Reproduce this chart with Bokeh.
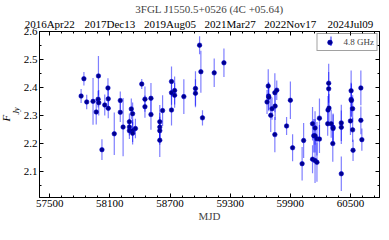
import numpy as np
from bokeh.plotting import figure
from bokeh.models import (ColumnDataSource, LinearAxis, FixedTicker, Range1d,
                          Legend, LegendItem, Title, Whisker)
from bokeh.embed import file_html
from bokeh.resources import INLINE

# ---------------- data ----------------
mjd = [57813, 57841, 57869, 57932, 57964, 57983, 57986, 57989, 58021, 58049,
       58081, 58084, 58084, 58144, 58204, 58204, 58232, 58295, 58295, 58295,
       58314, 58327, 58327, 58327, 58355, 58418, 58450, 58450, 58510, 58510,
       58598, 58598, 58598, 58598, 58626, 58715, 58715, 58715, 58746, 58746,
       58838, 58954, 58954, 58995, 59008, 59024, 59141, 59238,
       59668, 59680, 59683, 59686, 59705, 59718, 59746, 59749, 59746, 59765,
       59863, 59901, 59923, 60018, 60033, 60122, 60122, 60134, 60147, 60147,
       60147, 60166, 60166, 60191, 60191, 60283, 60283, 60276, 60286, 60273,
       60308, 60327, 60327, 60324, 60409, 60409, 60409, 60507, 60507, 60510,
       60522, 60500, 60522, 60526, 60604, 60604, 60614]
flux = [2.369, 2.431, 2.348, 2.350, 2.312, 2.358, 2.441, 2.345, 2.177, 2.337,
        2.398, 2.359, 2.325, 2.234, 2.353, 2.311, 2.258, 2.277, 2.258, 2.245,
        2.323, 2.306, 2.245, 2.236, 2.253, 2.412, 2.358, 2.331, 2.361, 2.303,
        2.277, 2.258, 2.245, 2.211, 2.317, 2.421, 2.381, 2.319, 2.389, 2.372,
        2.367, 2.396, 2.379, 2.551, 2.456, 2.291, 2.452, 2.488,
        2.348, 2.405, 2.369, 2.365, 2.300, 2.324, 2.381, 2.333, 2.231, 2.390,
        2.262, 2.354, 2.184, 2.127, 2.210, 2.270, 2.143, 2.227, 2.255, 2.227,
        2.138, 2.132, 2.216, 2.290, 2.215, 2.415, 2.395, 2.319, 2.326, 2.270,
        2.270, 2.257, 2.253, 2.199, 2.273, 2.257, 2.091, 2.388, 2.357, 2.353,
        2.324, 2.280, 2.248, 2.175, 2.398, 2.282, 2.213]
flux_err = [0.025, 0.024, 0.026, 0.084, 0.045, 0.030, 0.071, 0.046, 0.037, 0.038,
            0.035, 0.035, 0.035, 0.076, 0.032, 0.035, 0.104, 0.030, 0.030, 0.030,
            0.037, 0.040, 0.040, 0.040, 0.035, 0.018, 0.045, 0.040, 0.055, 0.055,
            0.060, 0.050, 0.050, 0.060, 0.055, 0.054, 0.043, 0.055, 0.050, 0.045,
            0.062, 0.062, 0.050, 0.032, 0.075, 0.027, 0.051, 0.051,
            0.043, 0.060, 0.050, 0.050, 0.060, 0.040, 0.070, 0.050, 0.063, 0.035,
            0.032, 0.067, 0.048, 0.060, 0.063, 0.060, 0.050, 0.060, 0.060, 0.060,
            0.080, 0.070, 0.060, 0.070, 0.050, 0.070, 0.060, 0.050, 0.050, 0.043,
            0.050, 0.050, 0.050, 0.065, 0.065, 0.060, 0.062, 0.072, 0.060, 0.060,
            0.048, 0.050, 0.043, 0.038, 0.062, 0.050, 0.040]

x_ticks = [57500, 58100, 58700, 59300, 59900, 60500]
date_labels = ["2016Apr22", "2017Dec13", "2019Aug05", "2021Mar27", "2022Nov17", "2024Jul09"]
y_ticks = [2.1, 2.2, 2.3, 2.4, 2.5, 2.6]
title_text = "3FGL J1550.5+0526 (4C +05.64)"
x_label = "MJD"
y_label_main = "F"
y_label_sub = "Jy"
legend_text = "4.8 GHz"

FONT = "Liberation Serif"
X0, X1 = 57398, 60790

src = ColumnDataSource(dict(
    x=mjd, y=flux,
    lo=[f - e for f, e in zip(flux, flux_err)],
    hi=[f + e for f, e in zip(flux, flux_err)],
))

p = figure(width=381, height=224, output_backend="svg", toolbar_location=None,
           x_range=Range1d(X0, X1), y_range=Range1d(2.006, 2.6),
           min_border_left=10, min_border_right=2, min_border_top=0,
           min_border_bottom=0)
p.background_fill_color = "white"
p.border_fill_color = "white"
p.outline_line_color = "black"
p.xgrid.visible = False
p.ygrid.visible = False

p.title.text = title_text
p.title.text_font = FONT
p.title.text_font_size = "11px"
p.title.text_font_style = "normal"
p.title.align = "center"
p.title.standoff = 0
p.title.offset = 0

xticker = FixedTicker(ticks=x_ticks, minor_ticks=list(np.arange(57380, 60800, 120)))
yticker = FixedTicker(ticks=y_ticks, minor_ticks=list(np.round(np.arange(2.0, 2.65, 0.05), 2)))


def style_axis(ax):
    ax.major_label_text_font = FONT
    ax.major_label_text_font_size = "11px"
    ax.major_label_text_color = "black"
    ax.axis_line_color = "black"
    ax.major_tick_line_color = "black"
    ax.minor_tick_line_color = "black"
    ax.major_tick_in = 4
    ax.major_tick_out = 0
    ax.minor_tick_in = 2
    ax.minor_tick_out = 0
    ax.major_label_standoff = 2
    ax.axis_label_text_font = FONT
    ax.axis_label_text_font_size = "11px"
    ax.axis_label_text_font_style = "normal"
    ax.axis_label_standoff = 0


p.xaxis.ticker = xticker
p.yaxis.ticker = yticker
p.xaxis.axis_label = x_label
style_axis(p.xaxis[0])
style_axis(p.yaxis[0])

top = LinearAxis(ticker=xticker,
                 major_label_overrides={t: d for t, d in zip(x_ticks, date_labels)})
style_axis(top)
p.add_layout(top, "above")

right = LinearAxis(ticker=yticker,
                   major_label_overrides={t: "" for t in y_ticks})
style_axis(right)
right.major_label_standoff = 0
p.add_layout(right, "right")

# y-axis label as two side titles: subscript "Jy" next to the axis, "F" outside it
p.add_layout(Title(text=y_label_sub, align="left", vertical_align="bottom", offset=83,
                   standoff=0, text_font=FONT, text_font_size="8px",
                   text_font_style="italic", text_color="black"), "left")
p.add_layout(Title(text=y_label_main, align="left", vertical_align="bottom", offset=76,
                   standoff=-5, text_font=FONT, text_font_size="11px",
                   text_font_style="italic", text_color="black"), "left")

# error bars and points
p.segment(x0="x", y0="lo", x1="x", y1="hi", source=src,
          line_color="blue", line_alpha=0.5, line_width=1.2)
p.scatter(x="x", y="y", source=src, size=4.5, marker="circle",
          fill_color="#00008b", line_color="#0000cc", line_width=0.6)

# legend: vertical error-bar stroke drawn under a transparent legend
p.add_layout(Whisker(base=X1 - 484, lower=2.548, upper=2.582, dimension="height",
                     upper_head=None, lower_head=None, line_color="blue",
                     line_alpha=0.7, line_width=1.2))
dot_proxy = p.scatter(x=[0], y=[0], marker="circle", size=4.5,
                      fill_color="#00008b", line_color="#0000cc", line_width=0.6)
legend = Legend(items=[LegendItem(label=legend_text, renderers=[dot_proxy])],
                location="top_right")
legend.label_text_font = FONT
legend.label_text_font_size = "9px"
legend.label_height = 11
legend.glyph_height = 12
legend.glyph_width = 20
legend.label_standoff = 4
legend.padding = 2
legend.spacing = 0
legend.margin = 2
legend.border_line_color = "#444444"
legend.border_line_width = 1
legend.background_fill_alpha = 0.0
p.add_layout(legend)

open("out.html", "w").write(file_html(p, INLINE))
